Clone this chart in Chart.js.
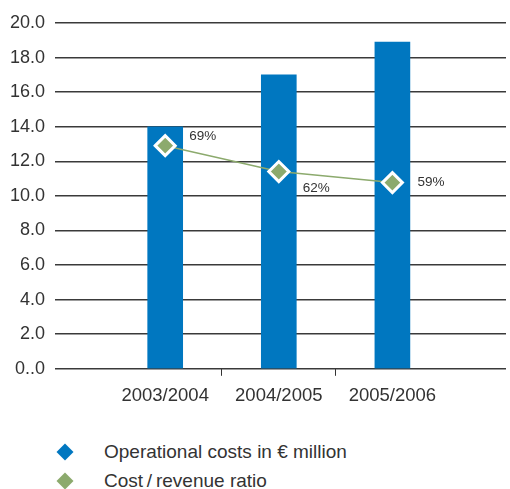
<!DOCTYPE html>
<html>
<head>
<meta charset="utf-8">
<script src="https://cdn.jsdelivr.net/npm/chart.js@4/dist/chart.umd.min.js"></script>
<style>
  html, body { margin: 0; padding: 0; background: #fff; }
  #wrap { position: relative; width: 510px; height: 489px; overflow: hidden; }
  #cbox { position: absolute; left: 0; top: 0; width: 510px; height: 420px; }
  #legend { position: absolute; left: 0; top: 438px; width: 510px; font-family: "Liberation Sans", Arial, sans-serif; font-size: 19px; color: #333; }
  .item { position: relative; height: 28.5px; line-height: 28px; }
  .mk { position: absolute; left: 59px; top: 8px; width: 12px; height: 12px; transform: rotate(45deg); }
  .tx { position: absolute; left: 104px; top: 0; white-space: nowrap; }
</style>
</head>
<body>
<div id="wrap">
  <div id="cbox"><canvas id="c"></canvas></div>
  <div id="legend"></div>
</div>
<script>
const categories = ['2003/2004', '2004/2005', '2005/2006'];
const costs = [14.0, 17.0, 18.9];
const ratio = [69, 62, 59];
const yTicks = [0, 2, 4, 6, 8, 10, 12, 14, 16, 18, 20];
const seriesNames = ['Operational costs in \u20AC million', 'Cost\u2009/\u2009revenue ratio'];

const BLUE = '#0077c0';
const GREEN = '#8caa6d';
const TEXT = '#333333';
const FONT = '"Liberation Sans", Arial, sans-serif';

const ratioLabelOffsets = [[24, -9], [24, 17], [25, 0]];

// Line controller that does not reserve extra layout padding for its big markers
class RatioLineController extends Chart.LineController {
  getMaxOverflow() { return 0; }
}
RatioLineController.id = 'ratioLine';
RatioLineController.defaults = Chart.LineController.defaults;
RatioLineController.overrides = Chart.LineController.overrides;
Chart.register(RatioLineController);

const ratioLabels = {
  id: 'ratioLabels',
  afterDatasetsDraw(chart) {
    const meta = chart.getDatasetMeta(1);
    const ctx = chart.ctx;
    ctx.save();
    ctx.font = '13.5px ' + FONT;
    ctx.fillStyle = TEXT;
    ctx.textAlign = 'left';
    ctx.textBaseline = 'middle';
    meta.data.forEach((pt, i) => {
      const o = ratioLabelOffsets[i];
      ctx.fillText(ratio[i] + '%', pt.x + o[0], pt.y + o[1]);
    });
    ctx.restore();
  }
};

const chart = new Chart(document.getElementById('c'), {
  type: 'bar',
  data: {
    datasets: [
      {
        type: 'bar',
        label: seriesNames[0],
        data: categories.map((c, i) => ({ x: i, y: costs[i] })),
        backgroundColor: BLUE,
        borderWidth: 0,
        barThickness: 35,
        yAxisID: 'y',
        order: 1
      },
      {
        type: 'ratioLine',
        label: seriesNames[1],
        data: categories.map((c, i) => ({ x: i, y: ratio[i] })),
        borderColor: GREEN,
        borderWidth: 1.5,
        backgroundColor: GREEN,
        fill: false,
        pointStyle: 'rectRot',
        pointRadius: 10,
        pointBorderWidth: 3,
        pointBackgroundColor: GREEN,
        pointBorderColor: '#ffffff',
        yAxisID: 'y1',
        order: 0,
        tension: 0
      }
    ]
  },
  options: {
    responsive: true,
    maintainAspectRatio: false,
    animation: false,
    layout: { padding: { left: 9, right: 4, top: 23, bottom: 4 } },
    plugins: {
      legend: { display: false },
      tooltip: { enabled: false }
    },
    scales: {
      x: {
        type: 'linear',
        min: -0.97,
        max: 3,
        offset: false,
        afterBuildTicks(axis) {
          axis.ticks = [0, 0.5, 1, 1.5, 2].map(v => ({ value: v }));
        },
        afterFit(axis) {
          axis.paddingLeft = 0;
          axis.paddingRight = 0;
        },
        ticks: {
          autoSkip: false,
          maxRotation: 0,
          padding: 9,
          color: TEXT,
          font: { family: FONT, size: 18.5 },
          callback: (v) => Number.isInteger(v) ? categories[v] : ''
        },
        grid: {
          offset: false,
          drawOnChartArea: false,
          drawTicks: true,
          tickLength: 7,
          lineWidth: 1,
          color: (ctx) => (ctx.tick && !Number.isInteger(ctx.tick.value)) ? '#333333' : 'rgba(0,0,0,0)'
        },
        border: { display: false }
      },
      y: {
        position: 'left',
        min: 0,
        max: 20,
        afterBuildTicks(axis) {
          axis.ticks = yTicks.map(v => ({ value: v }));
        },
        afterFit(axis) {
          axis.width = 46;
        },
        ticks: {
          padding: 10,
          color: TEXT,
          font: { family: FONT, size: 18 },
          callback: (v) => v === 0 ? '0..0' : v.toFixed(1)
        },
        grid: {
          color: '#3a3a3a',
          lineWidth: 1.5,
          drawTicks: false
        },
        border: { display: false }
      },
      y1: {
        display: false,
        min: 8.6,
        max: 102.2
      }
    }
  },
  plugins: [ratioLabels]
});

// HTML legend built from the chart's datasets
const legendEl = document.getElementById('legend');
chart.data.datasets.forEach((ds) => {
  const item = document.createElement('div');
  item.className = 'item';
  const mk = document.createElement('span');
  mk.className = 'mk';
  mk.style.background = ds.type === 'bar' ? ds.backgroundColor : ds.pointBackgroundColor;
  const tx = document.createElement('span');
  tx.className = 'tx';
  tx.textContent = ds.label;
  item.appendChild(mk);
  item.appendChild(tx);
  legendEl.appendChild(item);
});
</script>
</body>
</html>
